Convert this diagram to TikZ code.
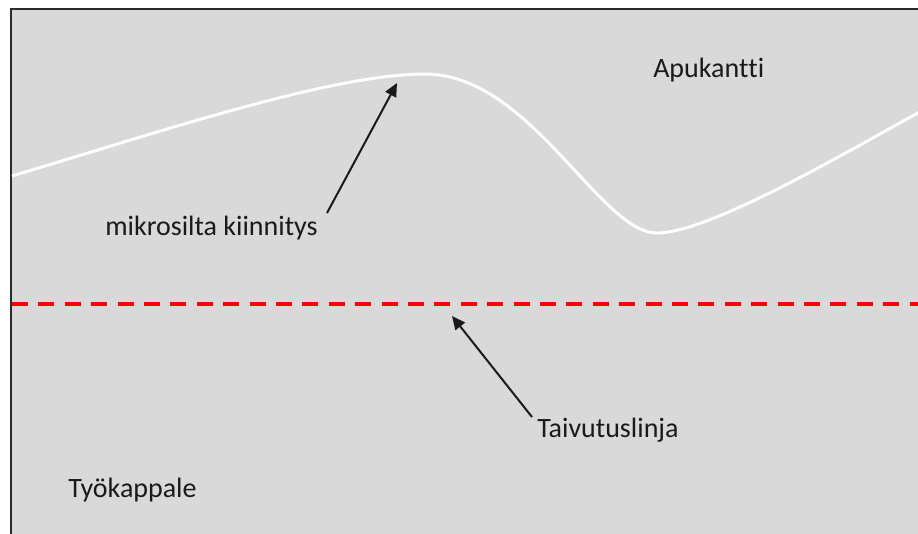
\documentclass[tikz,border=0pt]{standalone}
\usepackage{fontspec}
\setmainfont{Carlito}[Ligatures={NoCommon,NoContextual},RawFeature={-liga;-clig;-calt;-dlig}]
\usetikzlibrary{arrows.meta}
\definecolor{panel}{HTML}{D9D9D9}
\definecolor{edge}{HTML}{2B2B2B}
\definecolor{ink}{HTML}{1A1A1A}
\definecolor{bendred}{HTML}{FF0000}
\tikzset{
  lbl/.style={font=\fontsize{21pt}{24pt}\selectfont, text=ink, inner sep=0pt, anchor=base west},
  pointer/.style={draw=ink, line width=1.5pt, -{Triangle[length=10pt,width=9pt]}, shorten >=0pt},
  bendline/.style={draw=bendred, line width=3pt, dash pattern=on 12pt off 7.8pt},
  bridge/.style={draw=white, line width=2.2pt},
}
\begin{document}
\begin{tikzpicture}[x=0.75pt,y=-0.75pt]
\useasboundingbox (0,0) rectangle (918,533);
% panel
\fill[white] (0,0) rectangle (918,533);
\fill[panel] (11,9) rectangle (930,545);
\draw[edge, line width=1.6pt] (11,545) -- (11,9) -- (930,9);
% micro-bridge curve
\draw[bridge] (12,176) .. controls (150,135) and (330,74) .. (425,74)
  .. controls (530,74) and (600,233) .. (657,233)
  .. controls (710,233) and (850,150) .. (925,109);
% bending line
\coordinate (bl0) at (12,304);
\coordinate (bl1) at (925,304);
\draw[bendline] (bl0) -- (bl1);
% labels
\node[lbl] (apu) at (653,77) {Apukant\kern0ptt\kern0pti};
\node[lbl] (mik) at (105,235) {mikrosilta kiinnitys};
\node[lbl] (tai) at (537,437) {Taivutuslinja};
\node[lbl] (tyo) at (68,497) {Työkappale};
% arrow targets
\coordinate (peak) at (397,83);
\coordinate (line) at (452,316);
\coordinate (mikT) at (327,213);
\coordinate (taiT) at (532,417);
\draw[pointer] (mikT) -- (peak);
\draw[pointer] (taiT) -- (line);
\end{tikzpicture}
\end{document}
